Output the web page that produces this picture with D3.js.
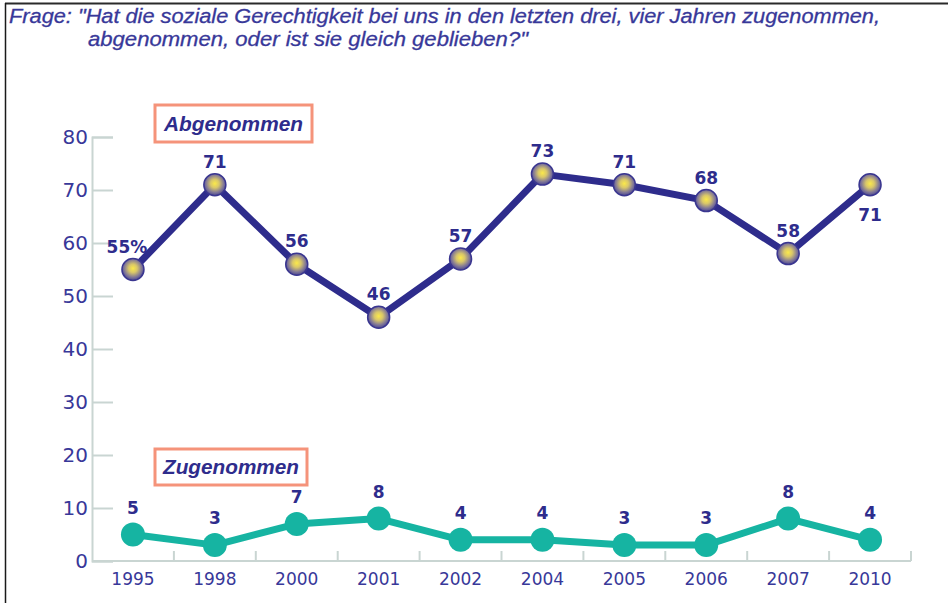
<!DOCTYPE html>
<html>
<head>
<meta charset="utf-8">
<script src="https://cdn.jsdelivr.net/npm/d3@7"></script>
<style>
  html, body { margin: 0; padding: 0; background: #fff; }
  svg { display: block; }
</style>
</head>
<body>
<script>
// data
const years = ['1995', '1998', '2000', '2001', '2002', '2004', '2005', '2006', '2007', '2010'];
const abgenommen = [55, 71, 56, 46, 57, 73, 71, 68, 58, 71];
const zugenommen = [5, 3, 7, 8, 4, 4, 3, 3, 8, 4];
const yTicks = [0, 10, 20, 30, 40, 50, 60, 70, 80];
const titleLines = [
  'Frage:  "Hat die soziale Gerechtigkeit bei uns in den letzten drei, vier Jahren zugenommen,',
  'abgenommen, oder ist sie gleich geblieben?"'
];

const W = 948, H = 603;
const textBlue = '#383899',
      navy = '#2e2c8c',
      teal = '#16b4a2',
      axisGrey = '#c9d5d2',
      boxColor = '#f5937a';

const svg = d3.select('body').append('svg')
    .attr('width', W)
    .attr('height', H);

const defs = svg.append('defs');
const grad = defs.append('radialGradient')
    .attr('id', 'ball')
    .attr('cx', '50%').attr('cy', '45%').attr('r', '55%');
grad.append('stop').attr('offset', '0%').attr('stop-color', '#fbe94a');
grad.append('stop').attr('offset', '35%').attr('stop-color', '#d8c66a');
grad.append('stop').attr('offset', '75%').attr('stop-color', '#7d7498');
grad.append('stop').attr('offset', '100%').attr('stop-color', '#4a468e');

// frame
svg.append('line')
    .attr('x1', 5).attr('x2', W).attr('y1', 3.5).attr('y2', 3.5)
    .attr('stroke', '#2a2a2a').attr('stroke-width', 2);
svg.append('line')
    .attr('x1', 5.5).attr('x2', 5.5).attr('y1', 3).attr('y2', H)
    .attr('stroke', '#1a1a1a').attr('stroke-width', 1.5);

// title
function titleLine(t, tx, ty, len) {
  svg.append('text')
      .attr('x', tx).attr('y', ty)
      .attr('font-family', 'Liberation Sans, Arial, sans-serif')
      .attr('font-style', 'italic')
      .attr('font-size', 20)
      .attr('fill', textBlue)
      .attr('stroke', textBlue)
      .attr('stroke-width', 0.3)
      .attr('textLength', len)
      .attr('lengthAdjust', 'spacingAndGlyphs')
      .text(t);
}
titleLine(titleLines[0], 9, 23, 871);
titleLine(titleLines[1], 88, 46, 440);

const margin = {left: 92, right: 37, top: 137, bottom: 42};

const x = d3.scaleBand()
    .domain(years)
    .range([margin.left, W - margin.right]);

const y = d3.scaleLinear()
    .domain([0, 80])
    .range([H - margin.bottom, margin.top]);

// y axis
const yAxis = svg.append('g')
    .attr('transform', `translate(${margin.left},0)`)
    .call(d3.axisRight(y).tickValues(yTicks).tickSize(21).tickPadding(0).tickFormat(''));
yAxis.select('.domain').attr('stroke', axisGrey).attr('stroke-width', 2);
yAxis.selectAll('.tick line').attr('stroke', axisGrey).attr('stroke-width', 2);

svg.append('g').selectAll('text')
    .data(yTicks)
    .enter()
    .append('text')
    .attr('x', margin.left - 4)
    .attr('y', d => y(d))
    .attr('dy', '0.36em')
    .attr('text-anchor', 'end')
    .attr('font-family', 'DejaVu Sans, sans-serif')
    .attr('font-size', 20)
    .attr('fill', textBlue)
    .text(d => d);

// x axis: baseline plus separators between categories
const x0 = y(0);
svg.append('line')
    .attr('x1', margin.left).attr('x2', W - margin.right)
    .attr('y1', x0).attr('y2', x0)
    .attr('stroke', axisGrey).attr('stroke-width', 2);
svg.append('g').selectAll('line')
    .data(years.slice(1).concat(['end']))
    .enter()
    .append('line')
    .attr('x1', d => d === 'end' ? W - margin.right : x(d))
    .attr('x2', d => d === 'end' ? W - margin.right : x(d))
    .attr('y1', x0).attr('y2', x0 - 10)
    .attr('stroke', axisGrey).attr('stroke-width', 2);

svg.append('g').selectAll('text')
    .data(years)
    .enter()
    .append('text')
    .attr('x', d => x(d) + x.bandwidth() / 2)
    .attr('y', x0 + 24)
    .attr('text-anchor', 'middle')
    .attr('font-family', 'DejaVu Sans, sans-serif')
    .attr('font-size', 17)
    .attr('fill', textBlue)
    .text(d => d);

const cx = (d, i) => x(years[i]) + x.bandwidth() / 2;

const line = d3.line()
    .x((d, i) => cx(d, i))
    .y(d => y(d));

// Abgenommen
svg.append('path')
    .datum(abgenommen)
    .attr('d', line)
    .attr('fill', 'none')
    .attr('stroke', navy)
    .attr('stroke-width', 7)
    .attr('stroke-linejoin', 'round');

svg.append('g').selectAll('circle')
    .data(abgenommen)
    .enter()
    .append('circle')
    .attr('cx', cx)
    .attr('cy', d => y(d))
    .attr('r', 11)
    .attr('fill', 'url(#ball)')
    .attr('stroke', '#3a3690')
    .attr('stroke-width', 1.5);

svg.append('g').selectAll('text')
    .data(abgenommen)
    .enter()
    .append('text')
    .attr('x', (d, i) => i === 0 ? cx(d, i) - 6 : cx(d, i))
    .attr('y', (d, i) => i === years.length - 1 ? y(d) + 36 : y(d) - 17)
    .attr('text-anchor', 'middle')
    .attr('font-family', 'DejaVu Sans, sans-serif')
    .attr('font-weight', 'bold')
    .attr('font-size', 17)
    .attr('fill', navy)
    .text((d, i) => i === 0 ? d + '%' : d);

// Zugenommen
svg.append('path')
    .datum(zugenommen)
    .attr('d', line)
    .attr('fill', 'none')
    .attr('stroke', teal)
    .attr('stroke-width', 7)
    .attr('stroke-linejoin', 'round');

svg.append('g').selectAll('circle')
    .data(zugenommen)
    .enter()
    .append('circle')
    .attr('cx', cx)
    .attr('cy', d => y(d))
    .attr('r', 12)
    .attr('fill', teal);

svg.append('g').selectAll('text')
    .data(zugenommen)
    .enter()
    .append('text')
    .attr('x', cx)
    .attr('y', d => y(d) - 21)
    .attr('text-anchor', 'middle')
    .attr('font-family', 'DejaVu Sans, sans-serif')
    .attr('font-weight', 'bold')
    .attr('font-size', 17)
    .attr('fill', navy)
    .text(d => d);

// series label boxes
function labelBox(text, bx, by, bw, bh, len) {
  svg.append('rect')
      .attr('x', bx).attr('y', by)
      .attr('width', bw).attr('height', bh)
      .attr('fill', '#fff')
      .attr('stroke', boxColor)
      .attr('stroke-width', 3);
  svg.append('text')
      .attr('x', bx + bw / 2)
      .attr('y', by + bh / 2)
      .attr('dy', '0.36em')
      .attr('text-anchor', 'middle')
      .attr('font-family', 'Liberation Sans, Arial, sans-serif')
      .attr('font-style', 'italic')
      .attr('font-weight', 'bold')
      .attr('font-size', 20)
      .attr('fill', navy)
      .attr('textLength', len)
      .attr('lengthAdjust', 'spacingAndGlyphs')
      .text(text);
}
labelBox('Abgenommen', 155, 105, 157, 37, 139);
labelBox('Zugenommen', 155, 449, 152, 36, 136);
</script>
</body>
</html>
